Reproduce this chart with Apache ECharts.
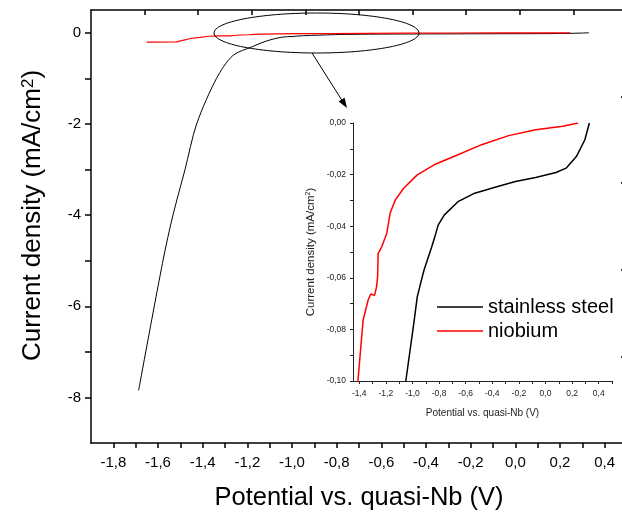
<!DOCTYPE html>
<html>
<head>
<meta charset="utf-8">
<script src="https://cdn.jsdelivr.net/npm/echarts@6/dist/echarts.min.js"></script>
<style>
  html, body { margin: 0; padding: 0; background: #fff; }
  #chart { width: 622px; height: 516px; }
</style>
</head>
<body>
<div id="chart"></div>
<script>
// potential (V) and current density (mA/cm2)
const steelV = [-1.687, -1.577, -1.533, -1.479, -1.427, -1.338, -1.265, -1.175, -1.12, -1.05,
  -0.99, -0.964, -0.933, -0.913, -0.855, -0.824, -0.816, -0.806, -0.76, -0.658,
  -0.532, -0.379, -0.226, -0.074, 0.079, 0.155, 0.232, 0.296, 0.33];
const steelJ = [-7.85, -4.98, -4.0, -3.0, -2.0, -1.0, -0.5, -0.3, -0.19, -0.1,
  -0.0777, -0.0674, -0.061, -0.057, -0.048, -0.0427, -0.0425, -0.0395, -0.0356, -0.0305,
  -0.0272, -0.0249, -0.0227, -0.0211, -0.0192, -0.0175, -0.013, -0.0065, 0];

const nbV = [-1.651, -1.517, -1.45, -1.41, -1.371, -1.333, -1.313, -1.3, -1.285, -1.274,
  -1.27, -1.262, -1.258, -1.231, -1.193, -1.168, -1.129, -1.066, -0.964, -0.837,
  -0.658, -0.48, -0.277, -0.074, 0.13, 0.245];
const nbJ = [-0.204, -0.2, -0.12, -0.1, -0.0764, -0.0686, -0.0663, -0.0658, -0.0668, -0.0672,
  -0.0635, -0.0596, -0.0505, -0.048, -0.0427, -0.035, -0.0298, -0.0253, -0.0201, -0.0162,
  -0.0123, -0.0084, -0.0049, -0.0026, -0.0013, 0];

// tick positions and labels
const mainXTicks = [-1.8, -1.7, -1.6, -1.5, -1.4, -1.3, -1.2, -1.1, -1.0, -0.9, -0.8, -0.7,
  -0.6, -0.5, -0.4, -0.3, -0.2, -0.1, 0.0, 0.1, 0.2, 0.3, 0.4];
const mainXLabels = [-1.8, -1.6, -1.4, -1.2, -1.0, -0.8, -0.6, -0.4, -0.2, 0.0, 0.2, 0.4];
const mainYTicks = [-8, -7, -6, -5, -4, -3, -2, -1, 0];
const mainYLabels = [-8, -6, -4, -2, 0];
const insetXTicks = [-1.4, -1.3, -1.2, -1.1, -1.0, -0.9, -0.8, -0.7, -0.6, -0.5, -0.4, -0.3,
  -0.2, -0.1, 0.0, 0.1, 0.2, 0.3, 0.4, 0.5];
const insetXLabels = [-1.4, -1.2, -1.0, -0.8, -0.6, -0.4, -0.2, 0.0, 0.2, 0.4];
const insetYTicks = [-0.1, -0.09, -0.08, -0.07, -0.06, -0.05, -0.04, -0.03, -0.02, -0.01, 0];
const insetYLabels = [-0.1, -0.08, -0.06, -0.04, -0.02, 0];

const pairs = (xs, ys) => xs.map((x, i) => [x, ys[i]]);
const comma = (d) => (v) => v.toFixed(d).replace('.', ',');
const font = 'Liberation Sans';

const chart = echarts.init(document.getElementById('chart'));

const option = {
  animation: false,
  textStyle: { fontFamily: font },
  grid: [
    { left: 91, top: 10, width: 536, bottom: 73, outerBoundsMode: 'none', containLabel: false },
    { left: 353, top: 123, width: 259, height: 258, outerBoundsMode: 'none', containLabel: false }
  ],
  legend: {
    data: ['stainless steel', 'niobium'],
    orient: 'vertical',
    left: 437,
    top: 296,
    padding: 0,
    itemGap: 2,
    icon: 'rect',
    itemWidth: 46,
    itemHeight: 1.4,
    textStyle: { fontSize: 20, lineHeight: 22, color: '#000', fontFamily: font }
  },
  xAxis: [
    {
      type: 'value', gridIndex: 0, position: 'bottom', min: -1.9, max: 0.5,
      name: 'Potential vs. quasi-Nb (V)', nameLocation: 'middle', nameGap: 42,
      nameTextStyle: { fontSize: 25.5, color: '#000', fontFamily: font },
      axisLine: { onZero: false, lineStyle: { color: '#000', width: 1.5 } },
      axisTick: { customValues: mainXTicks, length: 5, lineStyle: { color: '#000', width: 1.5 } },
      axisLabel: { customValues: mainXLabels, formatter: comma(1), fontSize: 15, color: '#000', margin: 12 },
      splitLine: { show: false }
    },
    {
      type: 'value', gridIndex: 0, position: 'top', min: 0, max: 10,
      axisLine: { onZero: false, lineStyle: { color: '#000', width: 1.5 } },
      axisTick: { customValues: [1, 2, 3, 4, 5, 6, 7, 8, 9], inside: true, length: 5,
        lineStyle: { color: '#000', width: 1.5 } },
      axisLabel: { show: false },
      splitLine: { show: false }
    },
    {
      type: 'value', gridIndex: 1, position: 'bottom', min: -1.447, max: 0.5,
      name: 'Potential vs. quasi-Nb (V)', nameLocation: 'middle', nameGap: 27,
      nameTextStyle: { fontSize: 10, color: '#222', fontFamily: font },
      axisLine: { onZero: false, lineStyle: { color: '#222', width: 1 } },
      axisTick: { customValues: insetXTicks, length: 3, lineStyle: { color: '#222' } },
      axisLabel: { customValues: insetXLabels, formatter: comma(1), fontSize: 8.5, color: '#222', margin: 8 },
      splitLine: { show: false }
    }
  ],
  yAxis: [
    {
      type: 'value', gridIndex: 0, position: 'left', min: -9, max: 0.5,
      name: '{n|Current density (mA/cm}{s|2}{n|)}', nameLocation: 'middle', nameGap: 45,
      nameTextStyle: {
        padding: [0, 0, 0, 22],
        rich: {
          n: { fontSize: 26, color: '#000', fontFamily: font },
          s: { fontSize: 17, color: '#000', fontFamily: font, verticalAlign: 'top' }
        }
      },
      axisLine: { onZero: false, lineStyle: { color: '#000', width: 1.5 } },
      axisTick: { customValues: mainYTicks, length: 6, lineStyle: { color: '#000', width: 1.5 } },
      axisLabel: { customValues: mainYLabels, fontSize: 15, color: '#000', margin: 10 },
      splitLine: { show: false }
    },
    {
      type: 'value', gridIndex: 0, position: 'right', min: 0, max: 5,
      axisLine: { show: true, onZero: false, lineStyle: { color: '#000', width: 1.5 } },
      axisTick: { customValues: [1, 2, 3, 4], inside: true, length: 6,
        lineStyle: { color: '#000', width: 1.5 } },
      axisLabel: { show: false },
      splitLine: { show: false }
    },
    {
      type: 'value', gridIndex: 1, position: 'left', min: -0.1, max: 0,
      name: '{n|Current density (mA/cm}{s|2}{n|)}', nameLocation: 'middle', nameGap: 36,
      nameTextStyle: {
        rich: {
          n: { fontSize: 11.5, color: '#222', fontFamily: font },
          s: { fontSize: 7, color: '#222', fontFamily: font, verticalAlign: 'top' }
        }
      },
      axisLine: { onZero: false, lineStyle: { color: '#222', width: 1 } },
      axisTick: { customValues: insetYTicks, length: 3, lineStyle: { color: '#222' } },
      axisLabel: { customValues: insetYLabels, formatter: comma(2), fontSize: 8.5, color: '#222', margin: 7 },
      splitLine: { show: false }
    }
  ],
  series: [
    {
      name: 'stainless steel', type: 'line', xAxisIndex: 0, yAxisIndex: 0,
      data: pairs(steelV, steelJ), symbol: 'none', smooth: 0.3,
      lineStyle: { color: '#000', width: 1 }, itemStyle: { color: '#000' }
    },
    {
      name: 'niobium', type: 'line', xAxisIndex: 0, yAxisIndex: 0,
      data: pairs(nbV, nbJ), symbol: 'none',
      lineStyle: { color: '#ff0000', width: 1.2 }, itemStyle: { color: '#ff0000' }
    },
    {
      name: 'stainless steel', type: 'line', xAxisIndex: 2, yAxisIndex: 2,
      data: pairs(steelV, steelJ), symbol: 'none', clip: true,
      lineStyle: { color: '#000', width: 1.5 }, itemStyle: { color: '#000' }
    },
    {
      name: 'niobium', type: 'line', xAxisIndex: 2, yAxisIndex: 2,
      data: pairs(nbV, nbJ), symbol: 'none', clip: true,
      lineStyle: { color: '#ff0000', width: 1.5 }, itemStyle: { color: '#ff0000' }
    }
  ],
  graphic: [
    {
      type: 'ellipse', shape: { cx: 316.5, cy: 33, rx: 102.5, ry: 20 },
      style: { fill: 'none', stroke: '#000', lineWidth: 1 }, z: 100
    },
    {
      type: 'line', shape: { x1: 312, y1: 53, x2: 343, y2: 102 },
      style: { stroke: '#000', lineWidth: 1 }, z: 100
    },
    {
      type: 'polygon', shape: { points: [[347, 108], [338.6, 101.5], [344.6, 97.7]] },
      style: { fill: '#000' }, z: 100
    }
  ]
};

chart.setOption(option);
</script>
</body>
</html>
